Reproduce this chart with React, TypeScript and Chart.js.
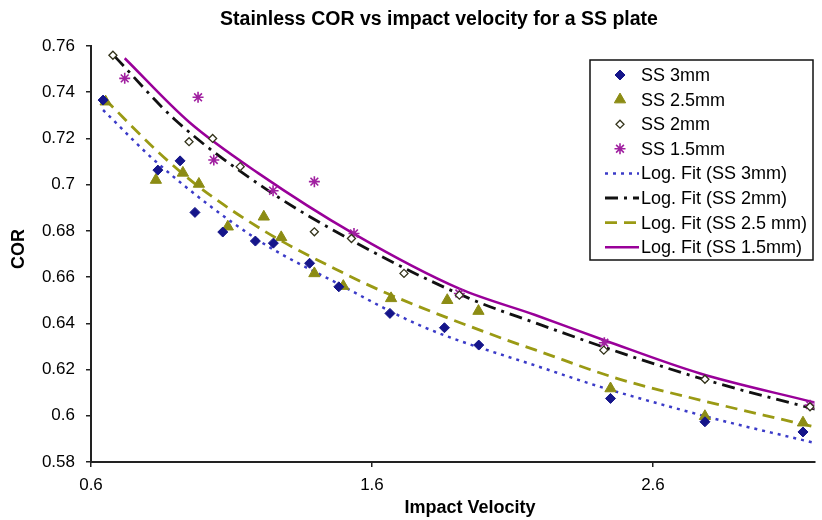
import React, { useEffect, useRef } from "react";
import { Chart, registerables } from "chart.js";

Chart.register(...registerables);

const chartTitle = "Stainless COR vs impact velocity for a SS plate";
const xTitle = "Impact Velocity";
const yTitle = "COR";
const xTicks = [0.6, 1.6, 2.6];

const ss3X = [0.643, 0.838, 0.917, 0.97, 1.069, 1.185, 1.249, 1.378, 1.482, 1.664, 1.858, 1.98, 2.449, 2.785, 3.134];
const ss3Y = [0.7366, 0.7063, 0.7103, 0.688, 0.6795, 0.6756, 0.6747, 0.666, 0.6558, 0.6443, 0.6381, 0.6306, 0.6075, 0.5974, 0.593];

const ss25X = [0.652, 0.831, 0.927, 0.984, 1.087, 1.215, 1.277, 1.395, 1.498, 1.668, 1.868, 1.979, 2.449, 2.785, 3.134];
const ss25Y = [0.7359, 0.702, 0.7051, 0.7003, 0.6818, 0.6861, 0.6772, 0.6616, 0.6561, 0.6508, 0.65, 0.6453, 0.6118, 0.5998, 0.597];

const ss2X = [0.678, 0.949, 1.033, 1.131, 1.395, 1.527, 1.714, 1.911, 2.425, 2.785, 3.159];
const ss2Y = [0.756, 0.7186, 0.72, 0.7078, 0.6796, 0.6767, 0.6616, 0.6522, 0.6284, 0.6158, 0.6039];

const ss15X = [0.72, 0.981, 1.037, 1.248, 1.395, 1.536, 1.911, 2.427, 3.159];
const ss15Y = [0.746, 0.7378, 0.7107, 0.6974, 0.7013, 0.6789, 0.6529, 0.6316, 0.6046];

const fit3X = [0.643, 0.84, 1.195, 1.477, 1.782, 2.205, 2.416, 2.649, 2.885, 3.085, 3.17];
const fit3Y = [0.7323, 0.709, 0.676, 0.6573, 0.6385, 0.6208, 0.6124, 0.6043, 0.5967, 0.5909, 0.5884];

const fit2X = [0.685, 0.9, 1.219, 1.547, 1.946, 2.181, 2.486, 2.791, 3.143, 3.18];
const fit2Y = [0.7554, 0.728, 0.6984, 0.6746, 0.6508, 0.6402, 0.6272, 0.6154, 0.6039, 0.6028];

const fit25X = [0.649, 0.84, 0.984, 1.219, 1.488, 1.653, 2.063, 2.181, 2.474, 2.768, 3.096, 3.17];
const fit25Y = [0.7371, 0.714, 0.6991, 0.6798, 0.6624, 0.653, 0.6335, 0.6285, 0.6161, 0.6068, 0.5974, 0.5953];

const fit15X = [0.72, 0.95, 1.195, 1.536, 1.911, 2.181, 2.427, 2.768, 3.167, 3.18];
const fit15Y = [0.7547, 0.727, 0.705, 0.6787, 0.655, 0.6436, 0.6327, 0.6183, 0.606, 0.6056];

const pts = (xs: number[], ys: number[]) => xs.map((x, i) => ({ x, y: ys[i] }));

const FONT = "'Liberation Sans', Arial, sans-serif";

function drawMarker(ctx: CanvasRenderingContext2D, style: string, x: number, y: number, r: number, fill: string, stroke: string, lw: number) {
  ctx.save();
  ctx.fillStyle = fill;
  ctx.strokeStyle = stroke;
  ctx.lineWidth = lw;
  ctx.setLineDash([]);
  ctx.beginPath();
  if (style === "rectRot") {
    ctx.moveTo(x, y - r);
    ctx.lineTo(x + r, y);
    ctx.lineTo(x, y + r);
    ctx.lineTo(x - r, y);
    ctx.closePath();
    ctx.fill();
    ctx.stroke();
  } else if (style === "triangle") {
    const a = r * Math.sin(Math.PI / 3);
    ctx.moveTo(x, y - r);
    ctx.lineTo(x + a, y + r / 2);
    ctx.lineTo(x - a, y + r / 2);
    ctx.closePath();
    ctx.fill();
    ctx.stroke();
  } else if (style === "star") {
    for (let k = 0; k < 4; k++) {
      const ang = (k * Math.PI) / 4;
      ctx.moveTo(x - r * Math.cos(ang), y - r * Math.sin(ang));
      ctx.lineTo(x + r * Math.cos(ang), y + r * Math.sin(ang));
    }
    ctx.stroke();
  }
  ctx.restore();
}

const textPlugin = {
  id: "texts",
  afterDraw(chart: any) {
    const ctx = chart.ctx as CanvasRenderingContext2D;
    ctx.save();
    ctx.fillStyle = "#000";
    ctx.textAlign = "center";
    ctx.textBaseline = "middle";
    ctx.font = `bold 19.5px ${FONT}`;
    ctx.fillText(chartTitle, 439, 20);
    ctx.font = `bold 18px ${FONT}`;
    ctx.fillText(xTitle, 470, 508);
    ctx.translate(19, 249);
    ctx.rotate(-Math.PI / 2);
    ctx.fillText(yTitle, 0, 0);
    ctx.restore();

    // legend
    const L = 590, T = 60, R = 813, B = 260;
    ctx.save();
    ctx.fillStyle = "#fff";
    ctx.fillRect(L, T, R - L, B - T);
    ctx.strokeStyle = "#111";
    ctx.lineWidth = 1.5;
    ctx.strokeRect(L, T, R - L, B - T);
    ctx.font = `18px ${FONT}`;
    ctx.textAlign = "left";
    ctx.textBaseline = "middle";
    chart.data.datasets.forEach((ds: any, i: number) => {
      const y = 75 + i * 24.6;
      if (ds.showLine) {
        ctx.save();
        ctx.strokeStyle = ds.borderColor;
        ctx.lineWidth = ds.borderWidth;
        ctx.setLineDash(ds.borderDash || []);
        ctx.beginPath();
        ctx.moveTo(605, y);
        ctx.lineTo(639, y);
        ctx.stroke();
        ctx.restore();
      } else {
        drawMarker(ctx, ds.pointStyle, 620, y, ds.pointRadius, ds.pointBackgroundColor, ds.pointBorderColor, ds.pointBorderWidth);
      }
      ctx.fillStyle = "#000";
      ctx.fillText(ds.label, 641, y + 1);
    });
    ctx.restore();
  },
};

export default function App() {
  const ref = useRef<HTMLCanvasElement | null>(null);
  useEffect(() => {
    document.body.style.margin = "0";
    const canvas = ref.current!;
    const scatter = (label: string, xs: number[], ys: number[], style: string, r: number, fill: string, stroke: string, bw: number) => ({
      label,
      data: pts(xs, ys),
      showLine: false,
      pointStyle: style,
      pointRadius: r,
      pointHoverRadius: r,
      pointBackgroundColor: fill,
      pointBorderColor: stroke,
      pointBorderWidth: bw,
    });
    const line = (label: string, xs: number[], ys: number[], color: string, width: number, dash: number[]) => ({
      label,
      data: pts(xs, ys),
      showLine: true,
      borderColor: color,
      backgroundColor: color,
      borderWidth: width,
      borderDash: dash,
      pointRadius: 0,
      pointHoverRadius: 0,
      cubicInterpolationMode: "monotone",
      fill: false,
    });
    const chart = new Chart(canvas, {
      type: "scatter",
      data: {
        datasets: [
          scatter("SS 3mm", ss3X, ss3Y, "rectRot", 5, "#15158a", "#15158a", 1),
          scatter("SS 2.5mm", ss25X, ss25Y, "triangle", 6.5, "#8c8c14", "#8c8c14", 1),
          scatter("SS 2mm", ss2X, ss2Y, "rectRot", 4, "#ffffff", "#33331a", 1.3),
          scatter("SS 1.5mm", ss15X, ss15Y, "star", 5.5, "#a020a0", "#a020a0", 1.6),
          line("Log. Fit (SS 3mm)", fit3X, fit3Y, "#3b3bc8", 2.5, [3, 5]),
          line("Log. Fit (SS 2mm)", fit2X, fit2Y, "#111111", 2.8, [13, 6, 3, 6]),
          line("Log. Fit (SS 2.5 mm)", fit25X, fit25Y, "#9a9a14", 2.8, [12, 7]),
          line("Log. Fit (SS 1.5mm)", fit15X, fit15Y, "#990099", 2.5, []),
        ] as any,
      },
      options: {
        responsive: false,
        animation: false,
        devicePixelRatio: 1,
        layout: { padding: { top: 46, right: 0, left: 0, bottom: 0 } },
        plugins: { legend: { display: false }, title: { display: false }, tooltip: { enabled: false } },
        scales: {
          x: {
            type: "linear",
            min: 0.6,
            max: 3.175,
            afterBuildTicks: (s: any) => {
              s.ticks = xTicks.map((v) => ({ value: v }));
            },
            afterFit: (s: any) => {
              s.height = 58;
            },
            ticks: {
              color: "#000",
              font: { family: FONT, size: 17 },
              padding: 8,
              maxRotation: 0,
              callback: (v: any) => String(Number(Number(v).toFixed(2))),
            },
            grid: { drawOnChartArea: false, drawTicks: true, tickLength: 5, color: "#222", lineWidth: 1.5 },
            border: { display: true, color: "#222", width: 2 },
          },
          y: {
            type: "linear",
            min: 0.58,
            max: 0.76,
            afterFit: (s: any) => {
              s.width = 91;
            },
            ticks: {
              stepSize: 0.02,
              color: "#000",
              font: { family: FONT, size: 17 },
              padding: 11,
              callback: (v: any) => String(Number(Number(v).toFixed(2))),
            },
            grid: { drawOnChartArea: false, drawTicks: true, tickLength: 5, color: "#222", lineWidth: 1.5 },
            border: { display: true, color: "#222", width: 2 },
          },
        },
      } as any,
      plugins: [textPlugin as any],
    });
    return () => chart.destroy();
  }, []);
  return (
    <div style={{ position: "absolute", left: 0, top: 0, width: 822, height: 520, background: "#fff" }}>
      <canvas ref={ref} width={822} height={520} />
    </div>
  );
}
